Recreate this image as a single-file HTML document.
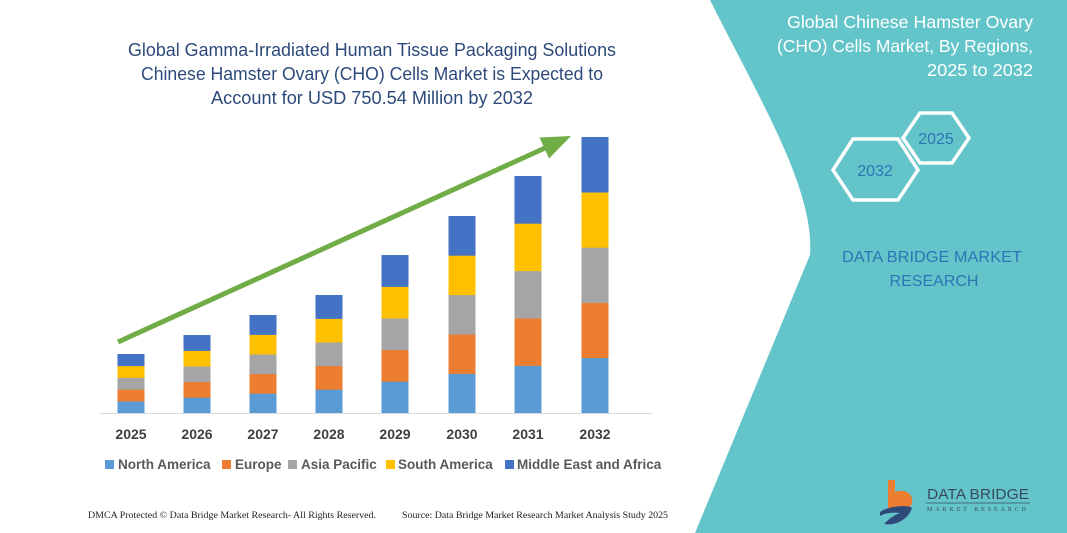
<!DOCTYPE html>
<html><head><meta charset="utf-8"><style>
html,body{margin:0;padding:0;background:#fff;}
svg{display:block;}
</style></head><body>
<svg width="1067" height="533" viewBox="0 0 1067 533" xmlns="http://www.w3.org/2000/svg">
<rect width="1067" height="533" fill="#fff"/>
<path d="M710,0 C760,100 815,190 810,255 L695,533 L1067,533 L1067,0 Z" fill="#63c5c9"/>
<g font-family="Liberation Sans, sans-serif" font-size="18.5" fill="#2e4a7a" text-anchor="middle">
<text x="372" y="56" textLength="488" lengthAdjust="spacingAndGlyphs">Global Gamma-Irradiated Human Tissue Packaging Solutions</text>
<text x="372" y="80" textLength="462" lengthAdjust="spacingAndGlyphs">Chinese Hamster Ovary (CHO) Cells Market is Expected to</text>
<text x="372" y="104" textLength="322" lengthAdjust="spacingAndGlyphs">Account for USD 750.54 Million by 2032</text>
</g>
<g font-family="Liberation Sans, sans-serif" font-size="17.5" fill="#fff" text-anchor="end">
<text x="1033" y="28" textLength="246" lengthAdjust="spacingAndGlyphs">Global Chinese Hamster Ovary</text>
<text x="1033" y="52" textLength="256" lengthAdjust="spacingAndGlyphs">(CHO) Cells Market, By Regions,</text>
<text x="1033" y="76" textLength="106" lengthAdjust="spacingAndGlyphs">2025 to 2032</text>
</g>
<polygon points="833,170 853,139 898,139 918,170 898,200 853,200" fill="none" stroke="#fff" stroke-width="3.5"/>
<polygon points="903,138 920,113 952,113 969,138 952,163 920,163" fill="none" stroke="#fff" stroke-width="3.5"/>
<g font-family="Liberation Sans, sans-serif" font-size="16" fill="#2e75b6" text-anchor="middle">
<text x="875" y="176">2032</text>
<text x="936" y="144">2025</text>
</g>
<g font-family="Liberation Sans, sans-serif" font-size="16" fill="#2e75b6" text-anchor="middle">
<text x="932" y="262" textLength="180" lengthAdjust="spacingAndGlyphs">DATA BRIDGE MARKET</text>
<text x="934" y="286">RESEARCH</text>
</g>
<g id="bars"></g>
<line x1="100" y1="413.5" x2="652" y2="413.5" stroke="#d9d9d9" stroke-width="1"/>
<line x1="118" y1="342" x2="545" y2="148" stroke="#70ad47" stroke-width="5"/>
<polygon points="571,136 539.5,137.5 549,158.5" fill="#70ad47"/>
<g font-family="Liberation Sans, sans-serif" font-size="14" font-weight="bold" fill="#404040" text-anchor="middle">
<text x="131" y="439">2025</text><text x="197" y="439">2026</text><text x="263" y="439">2027</text><text x="329" y="439">2028</text>
<text x="395" y="439">2029</text><text x="462" y="439">2030</text><text x="528" y="439">2031</text><text x="595" y="439">2032</text>
</g>
<g font-family="Liberation Sans, sans-serif" font-size="13.5" font-weight="bold" fill="#595959">
<rect x="105" y="460" width="9" height="9" fill="#5b9bd5"/><text x="118" y="469">North America</text>
<rect x="222" y="460" width="9" height="9" fill="#ed7d31"/><text x="235" y="469">Europe</text>
<rect x="288" y="460" width="9" height="9" fill="#a5a5a5"/><text x="301" y="469">Asia Pacific</text>
<rect x="386" y="460" width="9" height="9" fill="#ffc000"/><text x="398" y="469">South America</text>
<rect x="505" y="460" width="9" height="9" fill="#4472c4"/><text x="517" y="469">Middle East and Africa</text>
</g>
<g font-family="Liberation Serif, serif" font-size="9" fill="#222">
<text x="88" y="518" textLength="288" lengthAdjust="spacingAndGlyphs">DMCA Protected © Data Bridge Market Research-  All Rights Reserved.</text>
<text x="402" y="518" textLength="266" lengthAdjust="spacingAndGlyphs">Source: Data Bridge Market Research  Market Analysis Study 2025</text>
</g>
<g>
<path d="M888,480 L895,480 L895,492 C905,488 914,494 912,503 C910,510 900,512 892,508 L888,508 Z" fill="#ed7d31"/>
<path d="M880,512 C890,505 910,505 912,508 C908,520 895,526 884,524 C888,520 892,516 900,513 C893,512 885,513 880,516 Z" fill="#2e4a7a"/>
<text x="927" y="499" font-family="Liberation Sans, sans-serif" font-size="15" fill="#3a4a5a" textLength="102" lengthAdjust="spacingAndGlyphs">DATA BRIDGE</text>
<line x1="926" y1="503" x2="1030" y2="503" stroke="#3a4a5a" stroke-width="0.8"/>
<text x="927" y="511" font-family="Liberation Serif, serif" font-size="6" fill="#3a4a5a" textLength="102" lengthAdjust="spacingAndGlyphs" letter-spacing="3">MARKET RESEARCH</text>
</g>
<script>
(function(){
var cx=[131,197,263,329,395,462,528,595], tops=[354,335,315,295,255,216,176,137];
var cols=["#5b9bd5","#ed7d31","#a5a5a5","#ffc000","#4472c4"];
var g=document.getElementById("bars"), base=413, ns="http://www.w3.org/2000/svg";
for(var i=0;i<8;i++){var h=(base-tops[i])/5;
 for(var k=0;k<5;k++){var r=document.createElementNS(ns,"rect");
  r.setAttribute("x",cx[i]-13.5);r.setAttribute("width",27);
  r.setAttribute("y",base-(k+1)*h);r.setAttribute("height",h+0.3);
  r.setAttribute("fill",cols[k]);g.appendChild(r);}}
})();
</script>
</svg>
</body></html>
